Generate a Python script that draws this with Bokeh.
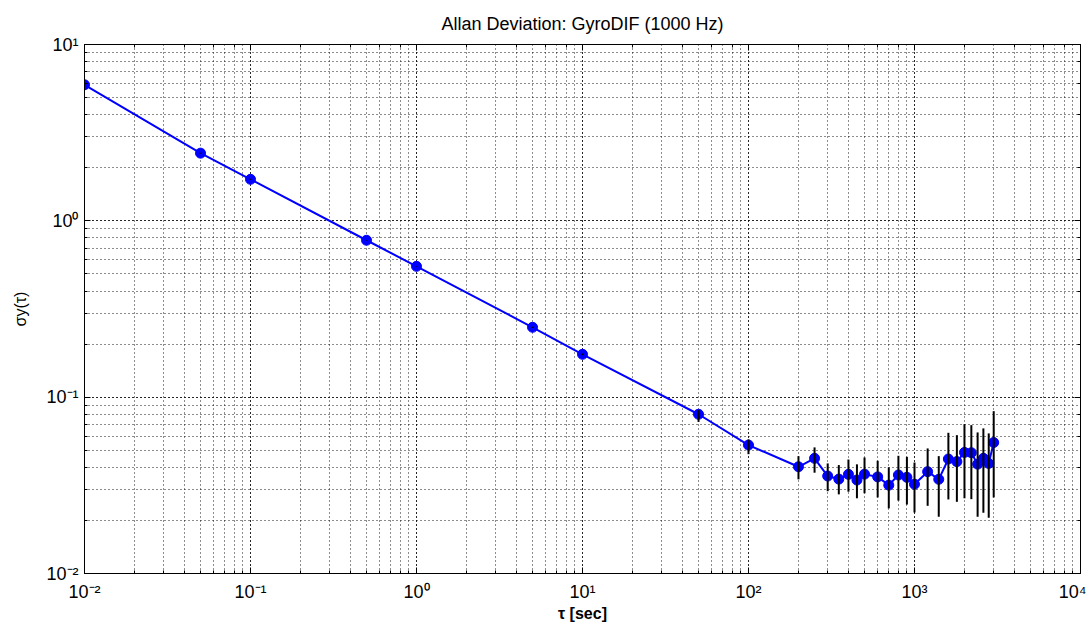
from bokeh.plotting import figure
from bokeh.models import Range1d, LogAxis, CustomJSTickFormatter, ColumnDataSource
from bokeh.embed import file_html
from bokeh.resources import INLINE

# ---- data ----
tau = [0.01, 0.05, 0.1, 0.5, 1, 5, 10, 50, 100, 200, 250, 300, 350, 400, 450, 500,
       600, 700, 800, 900, 1000, 1200, 1400, 1600, 1800, 2000, 2200, 2400, 2600, 2800, 3000]
adev = [5.91, 2.42, 1.72, 0.776, 0.552, 0.249, 0.175, 0.080, 0.0535, 0.0403, 0.0450,
        0.0357, 0.0343, 0.0365, 0.0339, 0.0366, 0.0353, 0.0317, 0.0362, 0.0351, 0.0321,
        0.0378, 0.0342, 0.0446, 0.0431, 0.0486, 0.0484, 0.0417, 0.0450, 0.0421, 0.0553]
err_lo = [5.90, 2.41, 1.71, 0.774, 0.550, 0.247, 0.173, 0.0724, 0.0475, 0.0342, 0.0373,
          0.0293, 0.0281, 0.0291, 0.0267, 0.0285, 0.0270, 0.0234, 0.0259, 0.0246, 0.0222,
          0.0242, 0.0210, 0.0263, 0.0255, 0.0267, 0.0264, 0.0210, 0.0221, 0.0207, 0.0270]
err_hi = [5.92, 2.43, 1.73, 0.778, 0.554, 0.251, 0.177, 0.0844, 0.0576, 0.0463, 0.0519,
          0.0421, 0.0412, 0.0443, 0.0416, 0.0455, 0.0436, 0.0400, 0.0465, 0.0459, 0.0426,
          0.0512, 0.0463, 0.0628, 0.0609, 0.0703, 0.0694, 0.0631, 0.0665, 0.0623, 0.0833]
title_text = "Allan Deviation: GyroDIF (1000 Hz)"
x_label = "\u03c4 [sec]"
y_label = "\u03c3y(\u03c4)"

src = ColumnDataSource(dict(tau=tau, adev=adev, lo=err_lo, hi=err_hi))

FONT = "Liberation Sans"

p = figure(width=1086, height=626, x_axis_type="log", y_axis_type="log",
           x_range=Range1d(0.01, 1e4), y_range=Range1d(0.01, 10),
           output_backend="svg", toolbar_location=None,
           min_border_left=84, min_border_right=6, min_border_top=44, min_border_bottom=53,
           title=title_text)

p.title.align = "center"
p.title.text_font = FONT
p.title.text_font_size = "18px"
p.title.text_font_style = "normal"
p.title.text_color = "black"
p.title.standoff = 22

sup_js = """
const sup = {'-':'\u207b','0':'\u2070','1':'\u00b9','2':'\u00b2','3':'\u00b3','4':'\u2074',
             '5':'\u2075','6':'\u2076','7':'\u2077','8':'\u2078','9':'\u2079'};
const e = Math.round(Math.log10(tick));
return '10' + String(e).split('').map(c => sup[c]).join('');
"""
fmt = CustomJSTickFormatter(code=sup_js)
blank = CustomJSTickFormatter(code="return '';")

for ax in (p.xaxis[0], p.yaxis[0]):
    ax.formatter = fmt
    ax.major_label_text_font = FONT
    ax.major_label_text_font_size = "18px"
    ax.major_label_text_color = "black"
    ax.axis_label_text_font = FONT
    ax.axis_label_text_font_size = "16px"
    ax.axis_label_text_color = "black"
    ax.axis_line_color = "black"
    ax.major_tick_in = 6
    ax.major_tick_out = 0
    ax.minor_tick_in = 3
    ax.minor_tick_out = 0
    ax.major_tick_line_color = "black"
    ax.minor_tick_line_color = "black"

p.xaxis[0].axis_label = x_label
p.xaxis[0].axis_label_text_font_style = "bold"
p.xaxis[0].major_label_standoff = 8
p.xaxis[0].axis_label_standoff = 0
p.yaxis[0].axis_label = y_label
p.yaxis[0].axis_label_text_font_style = "normal"
p.yaxis[0].major_label_standoff = 6
p.yaxis[0].axis_label_standoff = 14

for loc in ("right", "above"):
    ax = LogAxis(formatter=blank, major_label_text_font_size="0px",
                 major_tick_in=6, major_tick_out=0, minor_tick_in=3, minor_tick_out=0,
                 axis_line_color="black", major_tick_line_color="black",
                 minor_tick_line_color="black", major_label_standoff=0)
    p.add_layout(ax, loc)

for g in (p.xgrid[0], p.ygrid[0]):
    g.grid_line_color = "black"
    g.grid_line_alpha = 1.0
    g.grid_line_dash = "1 3"
    g.minor_grid_line_color = "black"
    g.minor_grid_line_alpha = 0.9
    g.minor_grid_line_dash = "1 3"

p.outline_line_color = "black"
p.background_fill_color = "white"
p.border_fill_color = "white"

p.line("tau", "adev", source=src, line_color="#0000ff", line_width=2)
p.scatter("tau", "adev", source=src, size=10, fill_color="#0000ff", line_color="#0000ff")
p.segment(x0="tau", y0="lo", x1="tau", y1="hi", source=src, line_color="black", line_width=2)

open("out.html", "w").write(file_html(p, INLINE))
